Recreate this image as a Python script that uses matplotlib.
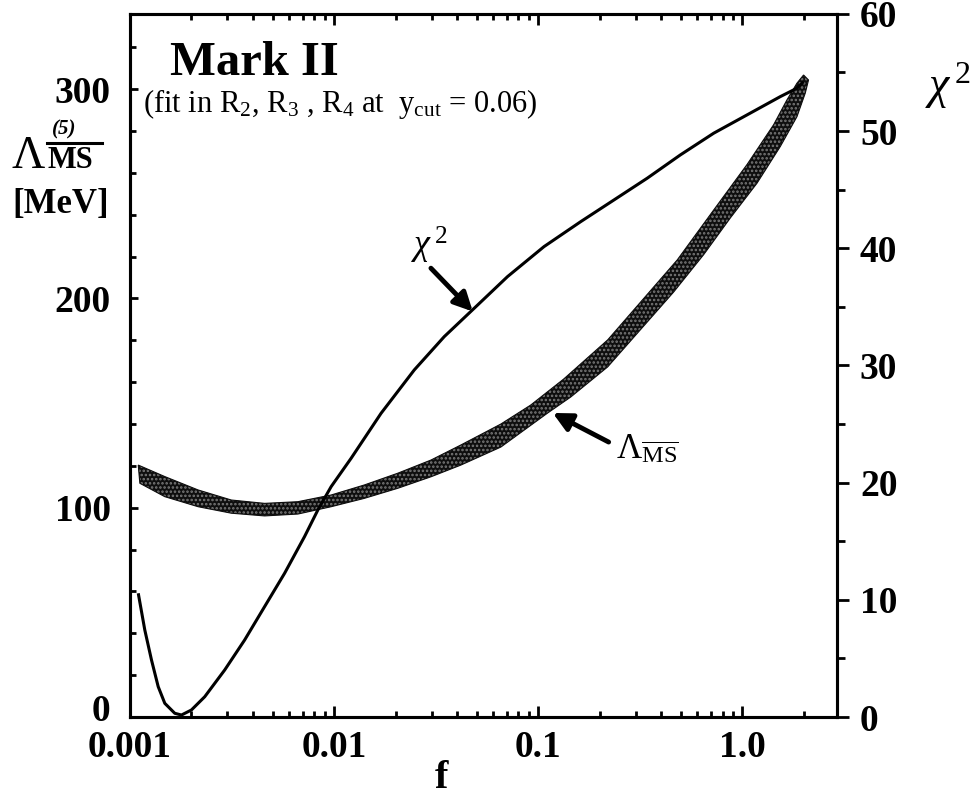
import numpy as np
import matplotlib
matplotlib.use("Agg")
import matplotlib.pyplot as plt
from matplotlib.lines import Line2D
from matplotlib.transforms import ScaledTranslation
from matplotlib.ticker import FixedLocator, LogLocator, NullFormatter

plt.rcParams['font.family'] = 'Liberation Serif'
plt.rcParams['mathtext.fontset'] = 'custom'
plt.rcParams['mathtext.rm'] = 'Liberation Serif'
plt.rcParams['mathtext.it'] = 'Liberation Serif:italic'
plt.rcParams['mathtext.bf'] = 'Liberation Serif:bold'
plt.rcParams['hatch.linewidth'] = 1.2

# chi^2 curve (right axis)
chi_f = [0.001097, 0.001181, 0.001274, 0.001374, 0.001480, 0.001656, 0.001786,
         0.001998, 0.002322, 0.002908, 0.003642, 0.004563, 0.005715, 0.007158,
         0.008322, 0.009668, 0.01211, 0.01698, 0.02470, 0.03463, 0.04855,
         0.07069, 0.1067, 0.1614, 0.2348, 0.3420, 0.4963, 0.7239, 1.054,
         1.534, 1.852, 1.995]
chi_val = [10.56, 7.43, 4.86, 2.59, 1.17, 0.32, 0.17, 0.60, 1.73, 4.01, 6.57,
           9.42, 12.26, 15.39, 17.67, 19.66, 22.08, 25.92, 29.62, 32.46, 34.88,
           37.58, 40.14, 42.27, 44.12, 45.98, 47.96, 49.82, 51.38, 52.94, 53.66,
           54.22]

# Lambda_MSbar band (left axis): upper and lower edge
up_f = [0.001097, 0.001480, 0.002156, 0.003135, 0.004563, 0.006645, 0.009668,
        0.01407, 0.02049, 0.02981, 0.04178, 0.06556, 0.09190, 0.1332, 0.2188,
        0.4795, 0.7239, 1.054, 1.4225, 1.654, 1.852, 1.995]
up_val = [120.4, 114.9, 108.5, 103.7, 102.1, 102.9, 106.1, 110.9, 116.5, 122.8,
          130.0, 140.0, 149.1, 161.5, 180.2, 218.4, 242.3, 264.0, 283.0, 294.9,
          302.9, 306.8]
lo_f = [0.001117, 0.001480, 0.002156, 0.003135, 0.004563, 0.006645, 0.009668,
        0.01407, 0.02049, 0.02981, 0.04178, 0.06556, 0.1113, 0.1442, 0.2188,
        0.4599, 0.6470, 0.8735, 1.180, 1.534, 1.852, 2.033, 2.110]
lo_val = [111.7, 105.3, 100.5, 97.4, 96.1, 97.0, 100.5, 104.5, 109.3, 114.8,
          120.4, 129.0, 145.3, 152.9, 167.3, 203.0, 221.0, 238.5, 255.1, 272.6,
          286.9, 298.1, 304.4]

xticks = [0.001, 0.01, 0.1, 1.0]
xticklabels = ['0.001', '0.01', '0.1', '1.0']

W, H = 980, 799
fig = plt.figure(figsize=(W / 100, H / 100), dpi=100)
ax = fig.add_axes([0.1327, 0.1026, 0.7214, 0.880])
ax2 = ax.twinx()

band_x = up_f + lo_f[::-1]
band_y = up_val + lo_val[::-1]
ax.fill(band_x, band_y, facecolor='#0e0e0e', edgecolor='#7a7a7a',
        hatch='....', linewidth=0, zorder=2)
ax.fill(band_x, band_y, facecolor='none', edgecolor='#0e0e0e', linewidth=0.8,
        zorder=3)
ax2.plot(chi_f, chi_val, color='black', lw=2.2, solid_capstyle='butt', zorder=4)

ax.set_xscale('log')
ax.set_xlim(0.00102, 2.91)
ax.set_ylim(0, 336)
ax2.set_ylim(0, 60)

ax.set_xticks(xticks)
ax.set_xticklabels(xticklabels)
ax.xaxis.set_minor_locator(LogLocator(base=10, subs=np.arange(2, 10)))
ax.xaxis.set_minor_formatter(NullFormatter())
ax.set_yticks([0, 100, 200, 300])
ax.yaxis.set_minor_locator(FixedLocator(np.arange(0, 337, 20)))
ax2.set_yticks([0, 10, 20, 30, 40, 50, 60])
ax2.yaxis.set_minor_locator(FixedLocator(np.arange(5, 60, 10)))

for a in (ax, ax2):
    for s in a.spines.values():
        s.set_linewidth(2.2)

ax.tick_params(axis='x', which='both', direction='in', top=True, width=2, pad=9)
ax.tick_params(axis='x', which='major', length=8)
ax.tick_params(axis='x', which='minor', length=4)
ax.tick_params(axis='y', which='both', direction='in', width=2, pad=14)
ax.tick_params(axis='y', which='major', length=6)
ax.tick_params(axis='y', which='minor', length=4.5)
ax2.tick_params(axis='y', which='both', direction='out', width=2, pad=8)
ax2.tick_params(axis='y', which='major', length=8.5)
ax2.tick_params(axis='y', which='minor', length=6)

for lab in ax.get_xticklabels() + ax.get_yticklabels() + ax2.get_yticklabels():
    lab.set_fontsize(27)
    lab.set_fontweight('bold')

# lift the left "0" a little so it clears "0.001"
zero = ax.get_yticklabels()[0]
zero.set_transform(zero.get_transform() + ScaledTranslation(0, 7 / 72, fig.dpi_scale_trans))

# texts
ax.text(0.0566, 0.913, 'Mark II', transform=ax.transAxes, fontsize=35,
        fontweight='bold', va='baseline', ha='left')
ax.text(0.0184, 0.861, r'(fit in R$_2$, R$_3$ , R$_4$ at  y$_{\rm cut}$ = 0.06)',
        transform=ax.transAxes, fontsize=22, va='baseline', ha='left')

# left axis label: Lambda^(5)_MSbar [MeV]
fig.text(28 / W, 1 - 168 / H, 'Λ', fontsize=33, ha='center', va='baseline')
fig.text(64 / W, 1 - 129 / H, '(5)', fontsize=15, fontweight='bold',
         style='italic', ha='center', va='center')
fig.text(70 / W, 1 - 168 / H, 'MS', fontsize=22, fontweight='bold',
         ha='center', va='baseline')
fig.add_artist(Line2D([47 / W, 102 / W], [1 - 143 / H, 1 - 143 / H],
                      color='black', lw=2.2, transform=fig.transFigure))
fig.text(61 / W, 1 - 213 / H, '[MeV]', fontsize=25, fontweight='bold',
         ha='center', va='baseline')

# right axis label
fig.text(948 / W, 1 - 86 / H, r'$\chi^{\,2}$', fontsize=33,
         ha='center', va='center')

fig.text(441 / W, 1 - 788 / H, 'f', fontsize=29, fontweight='bold',
         ha='center', va='baseline')

arrow = dict(arrowstyle='-|>', lw=3.5, color='black', mutation_scale=28,
             shrinkA=0, shrinkB=0)
ax2.annotate('', xy=(0.0478, 34.6), xytext=(0.0298, 38.3), arrowprops=arrow)
ax2.text(0.0291, 40.2, r'$\chi^{\,2}$', fontsize=26, ha='center', va='center')
ax.annotate('', xy=(0.1178, 145.3), xytext=(0.2213, 131.4), arrowprops=arrow)
ax.text(0.2393, 127.6, r'$\Lambda_{\overline{\rm MS}}$', fontsize=25,
        ha='left', va='center')

fig.savefig('out.png', dpi=100)
